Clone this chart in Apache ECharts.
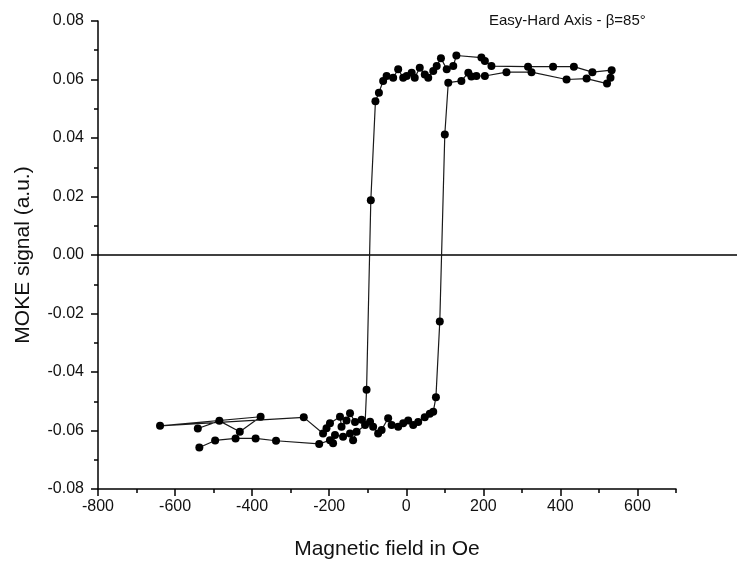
<!DOCTYPE html>
<html>
<head>
<meta charset="utf-8">
<script src="https://cdn.jsdelivr.net/npm/echarts@6/dist/echarts.min.js"></script>
<style>html,body{margin:0;padding:0;background:#fff;}#chart{width:737px;height:562px;}</style>
</head>
<body>
<div id="chart"></div>
<script>
// Magnetic field (Oe), in measurement order
var fieldOe = [
  -537, -496, -443, -391, -338,
  -226, -198, -190, -185, -164, -146, -138, -129, -94, -86, -73, -64, -47, -38, -21, -8, 5, 18, 31, 48, 61, 70,
  77, 87, 100, 109,
  143, 161, 169, 182, 204, 260, 325, 416, 468, 521, 530, 533,
  483, 435, 381, 316, 221, 204, 195, 130, 122, 105, 90, 79, 70, 57, 48, 35, 22, 14, 1, -8, -21, -34, -51, -60, -71, -80,
  -92, -103,
  -107, -116, -133, -146, -155, -168, -172, -198, -207, -216, -266, -639, -378, -432, -485, -541
];
// MOKE signal (a.u.), same order
var mokeSignal = [
  -0.0658, -0.0634, -0.0627, -0.0627, -0.0635,
  -0.0646, -0.0633, -0.0644, -0.0615, -0.0621, -0.0610, -0.0633, -0.0604, -0.0570, -0.0587, -0.0610, -0.0598, -0.0558, -0.0581, -0.0587, -0.0575, -0.0566, -0.0581, -0.0571, -0.0555, -0.0543, -0.0536,
  -0.0486, -0.0227, 0.0412, 0.0589,
  0.0595, 0.0623, 0.0610, 0.0612, 0.0612, 0.0625, 0.0625, 0.0600, 0.0603, 0.0586, 0.0606, 0.0632,
  0.0625, 0.0644, 0.0644, 0.0644, 0.0646, 0.0663, 0.0675, 0.0682, 0.0646, 0.0635, 0.0673, 0.0646, 0.0629, 0.0606, 0.0617, 0.0640, 0.0606, 0.0623, 0.0612, 0.0606, 0.0635, 0.0606, 0.0612, 0.0595, 0.0555, 0.0526,
  0.0187, -0.0461,
  -0.0581, -0.0563, -0.0571, -0.0541, -0.0566, -0.0587, -0.0553, -0.0575, -0.0592, -0.0610, -0.0555, -0.0584, -0.0553, -0.0604, -0.0567, -0.0593
];
var xMajorTicks = [-800, -600, -400, -200, 0, 200, 400, 600];
var xMinorTicks = [-700, -500, -300, -100, 100, 300, 500, 700];
var titleText = 'Easy-Hard Axis - \u03b2=85\u00b0';
var xName = 'Magnetic field in Oe';
var yName = 'MOKE signal (a.u.)';

var points = fieldOe.map(function (x, i) { return [x, mokeSignal[i]]; });
var font = 'Liberation Sans, Arial, sans-serif';
var chart = echarts.init(document.getElementById('chart'), null, {renderer: 'canvas'});
chart.setOption({
  animation: false,
  backgroundColor: '#ffffff',
  title: {
    text: titleText, left: 484, top: 8,
    textStyle: {fontFamily: font, fontSize: 15, fontWeight: 'normal', color: '#111'}
  },
  grid: [
    {left: 98, right: 61, top: 21, bottom: 73, outerBoundsMode: 'none', containLabel: false},
    {left: 98, right: 0, top: 21, bottom: 73, outerBoundsMode: 'none', containLabel: false}
  ],
  xAxis: [
    {
      type: 'value', gridIndex: 0, min: -800, max: 700,
      name: xName, nameLocation: 'middle', nameGap: 50,
      nameTextStyle: {fontFamily: font, fontSize: 21, color: '#111'},
      splitLine: {show: false},
      axisLine: {show: true, onZero: false, lineStyle: {color: '#000', width: 1.5}},
      axisTick: {show: true, customValues: xMajorTicks, length: 7, lineStyle: {color: '#000', width: 1.5}},
      axisLabel: {customValues: xMajorTicks, margin: 10, fontFamily: font, fontSize: 16, color: '#111'}
    },
    {
      type: 'value', gridIndex: 0, min: -800, max: 700, position: 'bottom',
      splitLine: {show: false},
      axisLine: {show: false, onZero: false},
      axisTick: {show: true, customValues: xMinorTicks, length: 4, lineStyle: {color: '#000', width: 1.5}},
      axisLabel: {show: false}
    },
    {
      type: 'value', gridIndex: 1, min: -800, max: 858, show: false
    }
  ],
  yAxis: [
    {
      type: 'value', gridIndex: 0, min: -0.08, max: 0.08, interval: 0.02,
      name: yName, nameLocation: 'middle', nameGap: 64, nameRotate: 90,
      nameTextStyle: {fontFamily: font, fontSize: 21, color: '#111'},
      splitLine: {show: false},
      axisLine: {show: true, onZero: false, lineStyle: {color: '#000', width: 1.5}},
      axisTick: {show: true, length: 7, lineStyle: {color: '#000', width: 1.5}},
      minorTick: {show: true, splitNumber: 2, length: 4, lineStyle: {color: '#000', width: 1.5}},
      axisLabel: {margin: 14, fontFamily: font, fontSize: 16, color: '#111',
        formatter: function (v) { return v.toFixed(2); }}
    },
    {
      type: 'value', gridIndex: 1, min: -0.08, max: 0.08, show: false
    }
  ],
  series: [
    {
      type: 'line', xAxisIndex: 2, yAxisIndex: 1,
      data: [[-800, 0], [858, 0]],
      symbol: 'none', silent: true,
      lineStyle: {color: '#000', width: 1.5}
    },
    {
      type: 'line', xAxisIndex: 0, yAxisIndex: 0,
      data: points,
      symbol: 'circle', symbolSize: 8, showAllSymbol: true,
      itemStyle: {color: '#000'},
      lineStyle: {color: '#1a1a1a', width: 1.2}
    }
  ]
});
</script>
</body>
</html>
